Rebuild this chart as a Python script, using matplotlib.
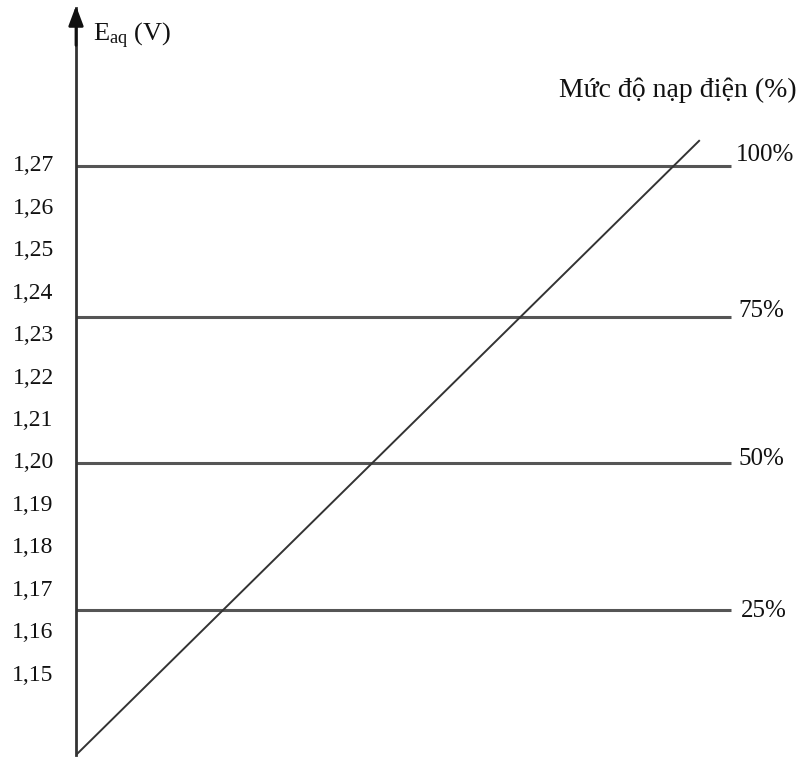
import matplotlib.pyplot as plt

# dữ liệu
tick_values = [1.15, 1.16, 1.17, 1.18, 1.19, 1.20, 1.21, 1.22, 1.23, 1.24, 1.25, 1.26, 1.27]
tick_labels = ['1,15', '1,16', '1,17', '1,18', '1,19', '1,20', '1,21', '1,22', '1,23', '1,24', '1,25', '1,26', '1,27']

level_values = [1.1654, 1.200, 1.2344, 1.270]   # đường ngang cho mỗi mức nạp
level_labels = ['25%', '50%', '75%', '100%']
level_x_end = 0.907

diag_x = [0.0, 0.863]
diag_y = [1.1312, 1.2759]

# độ lệch nhãn so với đường (px), chỉ để trình bày
label_dx = [10, 8, 8, 5]
label_dy = [1, 6, 8, 13]

plt.rcParams['font.family'] = ['Liberation Serif', 'DejaVu Serif']
plt.rcParams['mathtext.fontset'] = 'custom'
plt.rcParams['mathtext.rm'] = 'Liberation Serif'
plt.rcParams['mathtext.it'] = 'Liberation Serif:italic'

fig = plt.figure(figsize=(7.98, 7.58), dpi=100)
ax = fig.add_axes([76 / 798, 3 / 758, 722 / 798, 747 / 758])

ax.set_xlim(0, 1)
ax.set_ylim(1.1312, 1.3072)

px = 72 / 100  # đổi px sang point

# các đường mức nạp
for val, lab, dx, dy in zip(level_values, level_labels, label_dx, label_dy):
    ax.plot([0, level_x_end], [val, val], color='#555555', lw=2.2, solid_capstyle='butt')
    ax.annotate(lab, xy=(level_x_end, val), xytext=(dx * px, dy * px), textcoords='offset points',
                ha='left', va='center_baseline', fontsize=18, color='#111111')

# đường chéo
ax.plot(diag_x, diag_y, color='#333333', lw=1.4)

# trục tung với mũi tên
for s in ['top', 'right', 'bottom']:
    ax.spines[s].set_visible(False)
ax.spines['left'].set_color('#333333')
ax.spines['left'].set_linewidth(2)
ax.annotate('', xy=(0, 1.003), xytext=(0, 0.95), xycoords='axes fraction',
            arrowprops=dict(arrowstyle='-|>,head_length=1.2,head_width=0.45',
                            color='#111111', lw=2, shrinkA=0, shrinkB=0),
            annotation_clip=False)

ax.set_xticks([])
ax.set_yticks(tick_values)
ax.set_yticklabels(tick_labels, fontsize=17, color='#111111', va='center')
ax.tick_params(axis='y', length=0, pad=16)

fig.text(93 / 798, 1 - 36 / 758, r'E$_\mathrm{aq}$ (V)', fontsize=19, ha='left', va='center', color='#111111')
fig.text(559 / 798, 1 - 90 / 758, 'Mức độ nạp điện (%)', fontsize=20, ha='left', va='center', color='#111111')

plt.savefig('out.png', dpi=100)
